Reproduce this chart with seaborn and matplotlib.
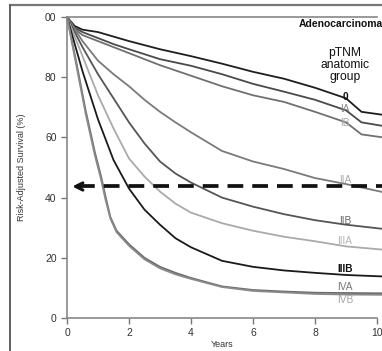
import matplotlib
matplotlib.use("Agg")
import matplotlib.pyplot as plt
from matplotlib.lines import Line2D
import pandas as pd
import seaborn as sns

# risk-adjusted survival by pTNM group
years_early = [0, 0.25, 0.5, 1, 1.5, 2, 3, 4, 5, 6, 7, 8, 9, 9.5, 10.2]
s_0 = [100, 97, 95.8, 95, 93.5, 92, 89.3, 87, 84.5, 81.8, 79.5, 76.5, 73, 68.5, 67.5]
s_IA = [100, 96.5, 95, 93, 91, 89.3, 86, 83.8, 81, 77.8, 75.2, 72.5, 69, 65, 63.8]
s_IB = [100, 96, 94, 92, 90, 88, 84, 80.5, 77, 74, 71.8, 68.5, 65, 61, 60]

years_mid = [0, 0.5, 1, 1.5, 2, 2.5, 3, 3.5, 4, 5, 6, 7, 8, 9, 10.2]
s_IIA = [100, 92, 85.5, 81, 77, 72.5, 68.5, 65, 61.7, 55.5, 52, 49.5, 46.5, 44.5, 41.8]
s_IIB = [100, 90, 81, 73, 65, 58, 52, 48, 45, 40, 37, 34.5, 32.5, 31, 29.6]
s_IIIA = [100, 87, 74, 63, 53, 47, 42, 38, 35, 31.5, 29, 27, 25.5, 23.8, 22.7]
s_IIIB = [100, 82, 66, 52.5, 43, 36, 31, 26.5, 23.5, 19, 17, 15.8, 15, 14.3, 13.8]

years_late = [0, 0.3, 0.6, 0.9, 1.1, 1.25, 1.4, 1.6, 2, 2.5, 3, 3.5, 4, 5, 6, 7, 8, 9, 10.2]
s_IVA = [100, 85, 69, 55, 47, 40, 33.5, 29, 24.5, 20, 17, 15, 13.3, 10.5, 9.3, 8.8, 8.4, 8.3, 8.2]
s_IVB = [100, 84, 68, 54, 46, 39, 33, 28.5, 24, 19.5, 16.5, 14.5, 13, 10.3, 9, 8.5, 8, 7.8, 7.7]

groups = ["0", "IA", "IB", "IIA", "IIB", "IIIA", "IIIB", "IVA", "IVB"]
line_colors = ["#1e1e1e", "#4a4a4a", "#707070", "#7a7a7a", "#555555",
               "#aaaaaa", "#1a1a1a", "#6a6a6a", "#8a8a8a"]
label_colors = ["#111111", "#8a8a8a", "#aaaaaa", "#aaaaaa", "#666666",
                "#b5b5b5", "#111111", "#777777", "#a5a5a5"]
label_y = [73.5, 69.5, 64.8, 46, 32.3, 25.7, 16.3, 10.3, 6]
dashed_level = 43.7

frames = []
for g, xs, ys in [("0", years_early, s_0), ("IA", years_early, s_IA), ("IB", years_early, s_IB),
                  ("IIA", years_mid, s_IIA), ("IIB", years_mid, s_IIB),
                  ("IIIA", years_mid, s_IIIA), ("IIIB", years_mid, s_IIIB),
                  ("IVA", years_late, s_IVA), ("IVB", years_late, s_IVB)]:
    frames.append(pd.DataFrame({"group": g, "years": xs, "survival": ys}))
df = pd.concat(frames, ignore_index=True)

sns.set_style("ticks")
plt.rcParams["font.family"] = ["Liberation Sans", "DejaVu Sans"]

fig = plt.figure(figsize=(3.82, 3.51), dpi=100)
ax = fig.add_axes([0.1754, 0.094, 0.8115, 0.8575])

sns.lineplot(data=df, x="years", y="survival", hue="group", hue_order=groups,
             palette=dict(zip(groups, line_colors)), estimator=None, sort=False,
             linewidth=1.3, legend=False, ax=ax, clip_on=False)

ax.set_xlim(0, 10)
ax.set_ylim(0, 100)
ax.set_xticks([0, 2, 4, 6, 8, 10])
ax.set_yticks([0, 20, 40, 60, 80, 100])
ax.set_yticklabels(["0", "20", "40", "60", "80", "00"])
ax.tick_params(labelsize=7.5, length=4, width=1, colors="#777777", labelcolor="#333333")
for side in ["left", "bottom", "top"]:
    ax.spines[side].set_color("#888888")
    ax.spines[side].set_linewidth(1.2)
ax.spines["right"].set_visible(False)
ax.set_xlabel("Years", fontsize=6.5, color="#333333", labelpad=1)
ax.set_ylabel("Risk-Adjusted Survival (%)", fontsize=6.5, color="#333333", labelpad=14)

# dashed reference line with arrow to the axis
ax.plot([0.4, 10.5], [dashed_level, dashed_level], color="#111111", lw=2.7,
        dashes=(4.2, 2.4), clip_on=False)
ax.annotate("", xy=(0.08, dashed_level), xytext=(0.55, dashed_level),
            arrowprops=dict(arrowstyle="->", lw=2.2, color="#111111", mutation_scale=13))

for g, c, y in zip(groups, label_colors, label_y):
    ax.text(8.97, y, g, ha="center", va="center", fontsize=7.3, color=c,
            fontweight="bold" if g in ("0", "IIIB") else "normal")

ax.text(1.02, 0.977, "Adenocarcinoma", transform=ax.transAxes, ha="right", va="center",
        fontsize=7.5, fontweight="bold", color="#111111", clip_on=False)
ax.text(8.97, 90, "pTNM\nanatomic\ngroup", ha="center", va="top",
        fontsize=8.7, color="#111111", linespacing=1.02)

# scan border
fig.add_artist(Line2D([10 / 382, 1], [1 - 5 / 351, 1 - 5 / 351], color="#777777", lw=1.6))
fig.add_artist(Line2D([10 / 382, 10 / 382], [0, 1 - 5 / 351], color="#555555", lw=1.3))

fig.savefig("out.png", dpi=100)
